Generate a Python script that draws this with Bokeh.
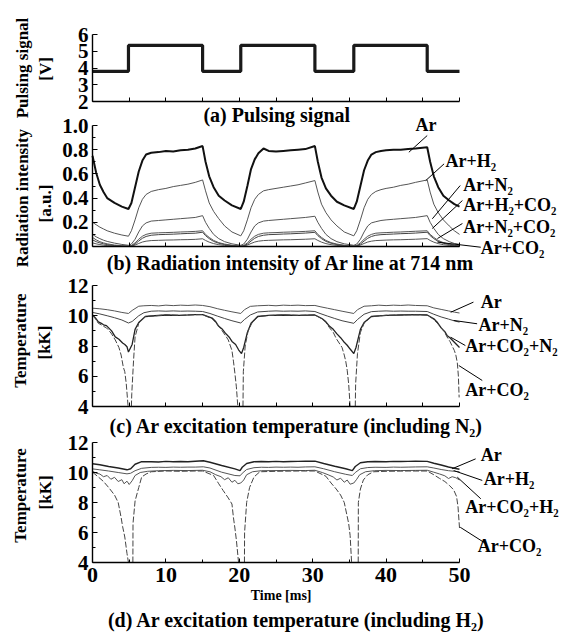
import math
from bokeh.plotting import figure
from bokeh.models import Range1d, LinearAxis, FixedTicker, PrintfTickFormatter
from bokeh.core.properties import value
from bokeh.embed import file_html
from bokeh.resources import INLINE

NAN = float("nan")
FONT = "Liberation Serif"

# ---------------- data ----------------
# (a) pulsing signal [V]
pulse_t = [0, 4.9, 4.9, 15.0, 15.0, 20.2, 20.2, 30.3, 30.3, 35.6, 35.6, 45.6, 45.6, 50]
pulse_v = [3.8, 3.8, 5.35, 5.35, 3.8, 3.8, 5.35, 5.35, 3.8, 3.8, 5.35, 5.35, 3.8, 3.8]

# (b) radiation intensity [a.u.]
b_t = [0, 0.5, 1, 1.5, 2, 3, 4, 4.9,
       5.3, 5.8, 6.3, 6.8, 7.3, 8, 9, 10, 11, 12, 13, 14, 15.0,
       15.4, 15.9, 16.5, 17.2, 18, 19, 20.2,
       20.6, 21.1, 21.6, 22.1, 22.6, 23.3, 24, 25, 26, 27, 28, 29, 30.3,
       30.7, 31.2, 31.8, 32.5, 33.3, 34.3, 35.6,
       36.0, 36.5, 37.0, 37.5, 38.0, 38.6, 39.3, 40, 41, 42, 43, 44, 45.6,
       46.0, 46.5, 47.1, 47.8, 48.6, 49.3, 50]
b_ar = [0.75, 0.61, 0.51, 0.45, 0.40, 0.36, 0.33, 0.31,
        0.36, 0.49, 0.62, 0.71, 0.76, 0.775, 0.78, 0.79, 0.785, 0.795, 0.80, 0.81, 0.83,
        0.70, 0.58, 0.49, 0.42, 0.38, 0.34, 0.31,
        0.37, 0.50, 0.64, 0.72, 0.77, 0.81, 0.79, 0.785, 0.79, 0.795, 0.80, 0.805, 0.83,
        0.70, 0.57, 0.48, 0.42, 0.37, 0.34, 0.31,
        0.37, 0.50, 0.63, 0.71, 0.76, 0.78, 0.79, 0.795, 0.80, 0.80, 0.805, 0.81, 0.82,
        0.70, 0.58, 0.49, 0.42, 0.38, 0.35, 0.33]
b_ar_h2 = [0.20, 0.18, 0.16, 0.145, 0.13, 0.11, 0.095, 0.085,
           0.13, 0.22, 0.32, 0.39, 0.43, 0.455, 0.47, 0.48, 0.495, 0.505, 0.515, 0.53, 0.55,
           0.46, 0.36, 0.29, 0.23, 0.17, 0.12, 0.088,
           0.13, 0.22, 0.32, 0.39, 0.43, 0.46, 0.47, 0.48, 0.49, 0.50, 0.51, 0.525, 0.545,
           0.45, 0.35, 0.28, 0.22, 0.17, 0.12, 0.088,
           0.13, 0.22, 0.32, 0.39, 0.43, 0.455, 0.47, 0.48, 0.49, 0.505, 0.515, 0.53, 0.55,
           0.45, 0.35, 0.28, 0.22, 0.17, 0.13, 0.10]
b_ar_n2 = [0.10, 0.08, 0.065, 0.052, 0.042, 0.028, 0.017, 0.01,
           0.02, 0.06, 0.12, 0.17, 0.195, 0.21, 0.215, 0.22, 0.225, 0.23, 0.235, 0.24, 0.255,
           0.20, 0.15, 0.10, 0.065, 0.04, 0.022, 0.01,
           0.02, 0.06, 0.12, 0.17, 0.195, 0.21, 0.215, 0.22, 0.225, 0.23, 0.235, 0.24, 0.25,
           0.20, 0.15, 0.10, 0.065, 0.04, 0.022, 0.01,
           0.02, 0.06, 0.12, 0.17, 0.195, 0.205, 0.215, 0.22, 0.225, 0.23, 0.235, 0.24, 0.255,
           0.20, 0.15, 0.10, 0.065, 0.04, 0.025, 0.018]
b_ar_h2_co2 = [0.075, 0.055, 0.04, 0.03, 0.022, 0.012, 0.006, 0.003,
               0.008, 0.03, 0.06, 0.085, 0.10, 0.11, 0.113, 0.115, 0.117, 0.12, 0.122, 0.125, 0.13,
               0.10, 0.075, 0.05, 0.032, 0.02, 0.01, 0.003,
               0.008, 0.03, 0.06, 0.085, 0.10, 0.11, 0.113, 0.115, 0.118, 0.12, 0.122, 0.125, 0.13,
               0.10, 0.075, 0.05, 0.032, 0.02, 0.01, 0.003,
               0.008, 0.03, 0.06, 0.085, 0.10, 0.11, 0.113, 0.115, 0.118, 0.12, 0.123, 0.126, 0.13,
               0.10, 0.075, 0.05, 0.032, 0.02, 0.012, 0.007]
b_ar_n2_co2 = [0.055, 0.04, 0.03, 0.022, 0.016, 0.008, 0.004, 0.002,
               0.006, 0.02, 0.045, 0.068, 0.083, 0.093, 0.098, 0.10, 0.102, 0.105, 0.108, 0.11, 0.118,
               0.09, 0.065, 0.042, 0.027, 0.016, 0.008, 0.002,
               0.006, 0.02, 0.045, 0.068, 0.083, 0.093, 0.098, 0.10, 0.103, 0.105, 0.108, 0.111, 0.117,
               0.09, 0.065, 0.042, 0.027, 0.016, 0.008, 0.002,
               0.006, 0.02, 0.045, 0.068, 0.083, 0.093, 0.098, 0.10, 0.103, 0.106, 0.108, 0.111, 0.118,
               0.09, 0.065, 0.042, 0.027, 0.016, 0.009, 0.005]
b_ar_co2 = [0.03, 0.022, 0.016, 0.011, 0.008, 0.004, 0.002, 0.001,
            0.003, 0.012, 0.025, 0.037, 0.044, 0.049, 0.051, 0.053, 0.054, 0.056, 0.057, 0.059, 0.064,
            0.05, 0.036, 0.024, 0.015, 0.009, 0.004, 0.001,
            0.003, 0.012, 0.025, 0.037, 0.044, 0.049, 0.051, 0.053, 0.055, 0.056, 0.058, 0.06, 0.064,
            0.05, 0.036, 0.024, 0.015, 0.009, 0.004, 0.001,
            0.003, 0.012, 0.025, 0.037, 0.044, 0.049, 0.051, 0.053, 0.055, 0.056, 0.058, 0.06, 0.065,
            0.05, 0.036, 0.024, 0.015, 0.009, 0.005, 0.003]

# (c) Ar excitation temperature, N2 series [kK]
c_t = [0, 1, 2, 3, 4, 4.9,
       5.4, 6.3, 7, 8, 9, 10, 11, 12, 13, 14, 15,
       16, 17, 18, 19, 20.2,
       20.7, 21.5, 22.5, 24, 25, 26, 27, 28, 29, 30.3,
       31, 32, 33, 34, 35.6,
       36.1, 37, 38, 39, 40, 41, 42, 43, 44, 45.6,
       46.5, 47.5, 48.5, 49.3, 50]
c_ar = [10.5, 10.46, 10.4, 10.32, 10.22, 10.15,
        10.35, 10.63, 10.66, 10.68, 10.65, 10.7, 10.67, 10.7, 10.68, 10.71, 10.68,
        10.6, 10.47, 10.36, 10.26, 10.15,
        10.4, 10.62, 10.66, 10.69, 10.66, 10.7, 10.68, 10.7, 10.67, 10.68,
        10.6, 10.5, 10.4, 10.3, 10.15,
        10.4, 10.63, 10.66, 10.7, 10.67, 10.7, 10.68, 10.71, 10.68, 10.66,
        10.52, 10.42, 10.32, 10.24, 10.18]
c_ar_n2 = [10.22, 10.12, 10.0, 9.87, 9.72, 9.52,
           9.62, 10.0, 10.2, 10.3, 10.32, 10.3, 10.32, 10.3, 10.31, 10.3, 10.28,
           10.15, 9.98, 9.82, 9.67, 9.52,
           9.75, 10.05, 10.25, 10.3, 10.32, 10.3, 10.31, 10.3, 10.32, 10.28,
           10.15, 9.98, 9.82, 9.67, 9.5,
           9.75, 10.1, 10.27, 10.3, 10.32, 10.3, 10.31, 10.3, 10.3, 10.28,
           10.1, 9.92, 9.78, 9.66, 9.58]
c_co2n2_t = [0, 0.4, 0.8, 1.2, 1.5, 1.9, 2.2, 2.6, 3.1, 3.6,
             4.1, 4.4, 4.7, 4.9, 5.1, 5.4, 5.8, 6.3, 7.2, 8.5,
             10, 12, 14, 15, 16.3, 16.8, 17.2, 17.7, 18.1, 18.6,
             19, 19.5, 19.9, 20.3, 20.6, 20.8, 21.1, 21.6, 22.5, 24,
             26, 28, 30.3, 31.3, 31.8, 32.3, 32.8, 33.3, 33.8, 34.2,
             34.7, 35.1, 35.6, 35.9, 36.1, 36.5, 37, 38, 40, 42,
             44, 45.6, 46.5, 47, 47.5, 48, 48.3, 48.7, 49, 49.3,
             49.6, 50]
c_ar_co2_n2 = [10.05, 9.85, 9.6, 9.5, 9.4, 9.35, 9.2, 9.0, 8.6, 8.45,
               8.2, 8.1, 7.95, 7.6, 7.8, 8.1, 9.1, 9.55, 9.95, 10.0,
               10.05, 10.03, 10.07, 10.08, 9.85, 9.6, 9.3, 9.1, 8.85, 8.6,
               8.3, 8.1, 7.75, 7.5, 7.9, 8.3, 8.9, 9.5, 9.95, 10.02,
               10.05, 10.03, 10.05, 9.8, 9.6, 9.3, 9.1, 8.8, 8.55, 8.3,
               8.05, 7.8, 7.5, 7.9, 8.3, 9.1, 9.55, 9.95, 10.03, 10.05,
               10.07, 10.05, 9.8, 9.55, 9.2, 8.95, 8.7, 8.55, 8.4, 8.25,
               8.1, 7.9]
c_co2_t = [0, 0.4, 0.8, 1.2, 1.5, 1.9, 2.2, 2.6, 3.1, 3.6, 3.9, 4.2, 4.4, 4.6, 4.75, 4.85,
           5.0,
           5.3, 5.35, 5.6, 5.8, 6.3, 7.2, 8.5, 10, 12, 14, 15,
           16.3, 16.8, 17.2, 17.6, 18.1, 18.5, 19.0, 19.2, 19.4, 19.6, 19.8,
           20.1,
           20.5, 20.55, 20.8, 21.2, 21.8, 22.6, 24, 26, 28, 30.3,
           31.3, 31.8, 32.3, 32.8, 33.2, 33.6, 34.0, 34.3, 34.5, 34.7, 34.9, 35.1,
           35.5,
           35.8, 35.85, 36.1, 36.5, 37, 38, 40, 42, 44, 45.6,
           46.5, 47, 47.5, 48, 48.3, 48.7, 49, 49.3, 49.5, 49.7, 49.85, 49.95]
c_ar_co2 = [10.05, 9.8, 9.5, 9.4, 9.3, 9.2, 9.05, 8.8, 8.4, 7.9, 7.4, 6.6, 6.3, 5.5, 4.6, 4.0,
            NAN,
            4.0, 4.85, 7.1, 8.6, 9.5, 9.95, 10.0, 10.05, 10.03, 10.07, 10.08,
            9.8, 9.55, 9.3, 9.05, 8.7, 8.4, 7.7, 7.0, 6.2, 5.3, 4.0,
            NAN,
            4.0, 6.3, 8.0, 9.0, 9.6, 9.95, 10.02, 10.05, 10.03, 10.05,
            9.8, 9.55, 9.2, 8.9, 8.5, 8.2, 7.9, 7.4, 7.0, 6.4, 5.5, 4.0,
            NAN,
            4.0, 5.5, 7.5, 8.9, 9.5, 9.95, 10.03, 10.05, 10.07, 10.05,
            9.75, 9.5, 9.2, 8.9, 8.6, 8.3, 8.0, 7.7, 7.4, 6.9, 6.0, 4.6]

# (d) Ar excitation temperature, H2 series [kK]
d_t = [0, 1, 2.2, 3.5, 4.7,
       5.2, 5.8, 6.7, 8, 9, 10, 11, 12, 13, 14, 15.1,
       16, 17.6, 19.4, 20.1,
       20.4, 21, 22, 23, 24, 25, 26, 27, 28, 29, 30.3,
       31.5, 33, 34.5, 35.4,
       35.8, 36.5, 37.5, 38.5, 40, 41, 42, 43, 44, 45.6,
       46.5, 47.5, 48.5, 49.3, 50]
d_ar = [10.58, 10.52, 10.4, 10.3, 10.18,
        10.25, 10.55, 10.72, 10.72, 10.7, 10.74, 10.72, 10.73, 10.72, 10.75, 10.78,
        10.68, 10.47, 10.24, 10.12,
        10.35, 10.6, 10.72, 10.73, 10.72, 10.74, 10.72, 10.73, 10.74, 10.75, 10.76,
        10.6, 10.42, 10.25, 10.12,
        10.4, 10.65, 10.72, 10.73, 10.72, 10.74, 10.73, 10.74, 10.75, 10.74,
        10.62, 10.5, 10.37, 10.28, 10.22]
d_ar_h2 = [10.24, 10.18, 10.1, 10.0, 9.91,
           9.95, 10.12, 10.28, 10.34, 10.35, 10.34, 10.36, 10.35, 10.36, 10.36, 10.38,
           10.3, 10.02, 9.8, 9.78,
           9.95, 10.2, 10.32, 10.35, 10.34, 10.36, 10.35, 10.36, 10.35, 10.37, 10.38,
           10.25, 10.05, 9.88, 9.8,
           10.0, 10.25, 10.33, 10.35, 10.34, 10.36, 10.35, 10.36, 10.37, 10.38,
           10.3, 10.2, 10.12, 10.08, 10.05]
d_co2h2_t = [0, 0.5, 1, 1.5, 2, 2.5, 3, 3.5, 4, 4.3,
             4.7, 5.0, 5.4, 5.8, 6.5, 7.5, 9, 11, 13, 15,
             16, 16.8, 17.5, 18, 18.5, 19, 19.4, 19.8, 20.2, 20.6,
             21, 21.8, 23, 25, 27, 29, 30.3, 31.3, 32.1, 32.8,
             33.3, 33.8, 34.3, 34.7, 35.1, 35.6, 36.0, 36.4, 37.2, 38.4,
             40, 42, 44, 45.6, 46.5, 47.3, 48, 48.5, 49, 49.5,
             50]
d_ar_co2_h2 = [10.09, 9.95, 9.9, 9.72, 9.8, 9.55, 9.68, 9.4, 9.52, 9.25,
               9.42, 9.2, 9.45, 9.8, 10.0, 10.08, 10.12, 10.14, 10.13, 10.15,
               10.05, 9.85, 9.72, 9.52, 9.65, 9.35, 9.48, 9.25, 9.3, 9.5,
               9.85, 10.05, 10.12, 10.13, 10.14, 10.13, 10.15, 10.0, 9.85, 9.7,
               9.5, 9.62, 9.35, 9.5, 9.22, 9.3, 9.55, 9.85, 10.05, 10.12,
               10.14, 10.13, 10.14, 10.15, 10.02, 9.9, 9.78, 9.6, 9.72, 9.65,
               9.5]
d_co2_t = [0, 0.8, 1.5, 2.2, 3.0, 3.5, 3.9, 4.1, 4.4, 4.7,
           4.9, 5.2, 5.5, 5.52, 5.8, 6.3, 6.7, 7.3, 8, 10,
           12, 14, 15, 16.5, 17.2, 17.8, 18.5, 19, 19.2, 19.4,
           19.6, 19.9, 20.3, 20.7, 20.72, 21, 21.4, 22, 22.8, 25,
           28, 30.3, 31.8, 32.5, 33.2, 33.8, 34.3, 34.6, 34.9, 35.1,
           35.3, 35.7, 36.2, 36.22, 36.5, 36.9, 37.5, 38.3, 40, 43,
           45.6, 46.5, 47.3, 48, 48.6, 49.2, 49.6, 49.8, 50]
d_ar_co2 = [10.02, 9.7, 9.4, 9.0, 8.5, 8.0, 7.0, 6.4, 5.7, 4.6,
            4.0, NAN, 4.0, 6.6, 8.1, 9.0, 9.7, 9.9, 10.05, 10.1,
            10.08, 10.1, 10.1, 9.8, 9.25, 8.8, 8.3, 7.9, 7.0, 6.3,
            5.5, 4.0, NAN, 4.0, 6.0, 8.0, 9.0, 9.7, 10.05, 10.08,
            10.1, 10.1, 9.75, 9.3, 8.9, 8.5, 8.0, 7.3, 6.6, 5.8,
            4.0, NAN, 4.0, 8.0, 8.9, 9.5, 9.85, 10.05, 10.08, 10.1,
            10.1, 9.85, 9.6, 9.4, 9.15, 8.85, 8.4, 7.7, 6.3]

# tick values
time_ticks = [0, 10, 20, 30, 40, 50]
time_minor = [5, 15, 25, 35, 45]
pulse_ticks = [2, 3, 4, 5, 6]
inten_ticks = [0.0, 0.2, 0.4, 0.6, 0.8, 1.0]
inten_minor = [0.1, 0.3, 0.5, 0.7, 0.9]
temp_ticks = [4, 6, 8, 10, 12]
temp_minor = [5, 7, 9, 11]

# ---------------- layout ----------------
W, H = 565, 632
X0_PX, PX_PER_MS = 92, 7.34
# panel: (top value, bottom value, top px, bottom px) measured from figure top
PANELS = {"a": (6, 2, 34, 101), "b": (1, 0, 125, 246),
          "c": (12, 4, 285, 406), "d": (12, 4, 442, 562)}


def panel_range(vt, vb, pt, pb):
    s = (pb - pt) / (vt - vb)
    return Range1d(vb - (H - pb) / s, vt + pt / s)


x_range = Range1d(-X0_PX / PX_PER_MS, (W - X0_PX) / PX_PER_MS)
p = figure(width=W, height=H, x_range=x_range, y_range=panel_range(*PANELS["a"]),
           x_axis_type=None, y_axis_type=None, toolbar_location=None,
           output_backend="svg", min_border=0, title=None)
p.outline_line_color = None
p.background_fill_color = "white"
p.border_fill_color = "white"
p.extra_y_ranges = {k: panel_range(*PANELS[k]) for k in ("b", "c", "d")}
RN = {"a": "default", "b": "b", "c": "c", "d": "d"}


def style_axis(ax, size):
    ax.axis_line_color = "black"
    ax.axis_line_width = 1.4
    ax.major_tick_line_color = "black"
    ax.minor_tick_line_color = "black"
    ax.major_tick_out = 0
    ax.minor_tick_out = 0
    ax.major_label_text_font = FONT
    ax.major_label_text_font_style = "bold"
    ax.major_label_text_font_size = size
    ax.major_label_text_color = "black"


def add_panel_axes(k, yticks, yminor, fmt=None, xlabels=False):
    vt, vb = PANELS[k][0], PANELS[k][1]
    ya = LinearAxis(y_range_name=RN[k], fixed_location=0, bounds=(vb, vt),
                    ticker=FixedTicker(ticks=yticks, minor_ticks=yminor))
    if fmt:
        ya.formatter = PrintfTickFormatter(format=fmt)
    style_axis(ya, "21px")
    ya.major_tick_in = 5
    ya.minor_tick_in = 3
    ya.major_label_standoff = 4
    p.add_layout(ya, "left")
    if xlabels:
        tk = FixedTicker(ticks=time_ticks, minor_ticks=time_minor)
    else:
        tk = FixedTicker(ticks=[], minor_ticks=time_ticks + time_minor)
    xa = LinearAxis(y_range_name=RN[k], fixed_location=vb, bounds=(0, 50), ticker=tk)
    style_axis(xa, "22px")
    xa.major_tick_in = 4
    xa.minor_tick_in = 4 if not xlabels else 3
    xa.major_label_standoff = 5
    p.add_layout(xa, "below")


add_panel_axes("a", pulse_ticks, [])
add_panel_axes("b", inten_ticks, inten_minor, fmt="%.1f")
add_panel_axes("c", temp_ticks, temp_minor)
add_panel_axes("d", temp_ticks, temp_minor, xlabels=True)


def txt(k, x, y, s, size, align="left", baseline="middle", angle=0.0):
    p.text(x=[x], y=[y], text=[s], y_range_name=RN[k], angle=angle,
           text_font=value(FONT), text_font_style="bold",
           text_font_size=value(f"{size}px"), text_color="black",
           text_align=align, text_baseline=baseline)


def leader(k, x0, y0, x1, y1):
    p.segment(x0=[x0], y0=[y0], x1=[x1], y1=[y1], y_range_name=RN[k],
              line_color="black", line_width=1)


# ---- (a) ----
p.line(pulse_t, pulse_v, line_color="#1a1a1a", line_width=3.2)

# ---- (b) ----
for ys, w, c in [(b_ar_co2, 1, "#555555"), (b_ar_n2_co2, 1, "#444444"),
                 (b_ar_h2_co2, 1, "#555555"), (b_ar_n2, 1, "#555555"),
                 (b_ar_h2, 1, "#555555"), (b_ar, 2, "#111111")]:
    p.line(b_t, ys, y_range_name="b", line_color=c, line_width=w)

# ---- (c) ----
p.line(c_t, c_ar, y_range_name="c", line_color="#555555", line_width=1)
p.line(c_t, c_ar_n2, y_range_name="c", line_color="#444444", line_width=1)
p.line(c_co2n2_t, c_ar_co2_n2, y_range_name="c", line_color="#222222", line_width=1.3)
p.line(c_co2_t, c_ar_co2, y_range_name="c", line_color="#444444", line_width=1,
       line_dash="6 2")

# ---- (d) ----
p.line(d_t, d_ar_h2, y_range_name="d", line_color="#555555", line_width=1)
p.line(d_t, d_ar, y_range_name="d", line_color="#222222", line_width=1.4)
p.line(d_co2h2_t, d_ar_co2_h2, y_range_name="d", line_color="#555555", line_width=1)
p.line(d_co2_t, d_ar_co2, y_range_name="d", line_color="#444444", line_width=1,
       line_dash="6 2")

# ---- y axis titles (rotated) ----
R = math.pi / 2
txt("a", -9.47, 4.0, "Pulsing signal", 17, "center", "middle", R)
txt("a", -6.40, 3.95, "[V]", 17, "center", "middle", R)
txt("b", -9.47, 0.40, "Radiation intensity", 17, "center", "middle", R)
txt("b", -6.40, 0.355, "[a.u.]", 17, "center", "middle", R)
txt("c", -9.81, 8.36, "Temperature", 17, "center", "middle", R)
txt("c", -6.54, 8.23, "[kK]", 17, "center", "middle", R)
txt("d", -9.81, 8.47, "Temperature", 17, "center", "middle", R)
txt("d", -6.40, 8.67, "[kK]", 17, "center", "middle", R)

# ---- captions ----
txt("a", 25.1, 1.17, "(a) Pulsing signal", 20, "center", "alphabetic")
txt("b", 27.0, -0.14, "(b) Radiation intensity of Ar line at 714 nm", 20, "center", "alphabetic")
txt("c", 27.8, 2.68, "(c) Ar excitation temperature (including N\u2082)", 20, "center", "alphabetic")
txt("d", 25.7, 1.80, "Time [ms]", 14, "center", "alphabetic")
txt("d", 27.8, 0.14, "(d) Ar excitation temperature (including H\u2082)", 20, "center", "alphabetic")

# ---- series labels with leader lines ----
LS = 18
txt("b", 44.0, 1.008, "Ar", LS)
leader("b", 43.1, 0.779, 45.6, 0.917)
txt("b", 48.1, 0.707, "Ar+H\u2082", LS)
leader("b", 45.4, 0.545, 47.9, 0.683)
txt("b", 50.5, 0.512, "Ar+N\u2082", LS)
leader("b", 46.3, 0.229, 50.1, 0.504)
txt("b", 50.5, 0.339, "Ar+H\u2082+CO\u2082", LS)
leader("b", 46.3, 0.149, 50.4, 0.380)
txt("b", 50.5, 0.161, "Ar+N\u2082+CO\u2082", LS)
leader("b", 47.0, 0.066, 50.4, 0.190)
txt("b", 52.9, -0.012, "Ar+CO\u2082", LS)
leader("b", 47.0, 0.036, 52.9, -0.006)

txt("c", 52.9, 10.94, "Ar", LS)
leader("c", 48.8, 10.23, 51.9, 10.90)
txt("c", 52.6, 9.36, "Ar+N\u2082", LS)
leader("c", 49.2, 9.69, 52.4, 9.47)
txt("c", 50.8, 7.97, "Ar+CO\u2082+N\u2082", LS)
leader("c", 48.8, 8.58, 50.8, 8.03)
txt("c", 50.8, 5.12, "Ar+CO\u2082", LS)
leader("c", 49.9, 6.71, 53.1, 5.72)

txt("d", 52.9, 11.2, "Ar", LS)
leader("d", 49.0, 10.25, 52.2, 10.91)
txt("d", 53.3, 9.6, "Ar+H\u2082", LS)
leader("d", 49.2, 10.13, 53.1, 9.47)
txt("d", 50.8, 7.73, "Ar+CO\u2082+H\u2082", LS)
leader("d", 49.7, 9.69, 52.9, 8.25)
txt("d", 52.5, 5.07, "Ar+CO\u2082", LS)
leader("d", 50.1, 6.35, 53.5, 5.29)

open("out.html", "w").write(file_html(p, INLINE))
